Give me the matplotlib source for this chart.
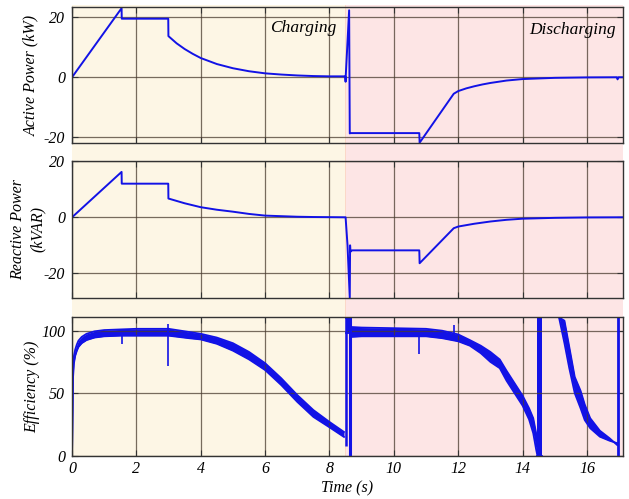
import numpy as np
import matplotlib
matplotlib.use('Agg')
import matplotlib.pyplot as plt
from matplotlib.patches import Rectangle
from matplotlib.transforms import blended_transform_factory

plt.rcParams['font.family'] = ['Liberation Serif', 'DejaVu Serif']
plt.rcParams['font.style'] = 'italic'
plt.rcParams['font.size'] = 11.5
plt.rcParams['axes.unicode_minus'] = False

# ---- data ----
# active power (kW)
p_t = [0, 1.54, 1.545, 2.99, 2.995, 3.25, 3.5, 3.75, 4.0, 4.5, 5.0, 5.5, 6.0, 6.5, 7.0, 7.5,
       8.0, 8.49, 8.5, 8.505, 8.61, 8.63, 8.65, 10.79, 10.8, 11.86, 12.0, 12.25, 12.5, 12.75,
       13.0, 13.5, 14.0, 15.0, 16.0, 16.93, 16.95, 16.98, 17.1]
p_kw = [0, 23.0, 19.5, 19.5, 13.7, 11.3, 9.4, 7.8, 6.4, 4.4, 3.0, 2.0, 1.3, 0.9, 0.6, 0.4,
        0.3, 0.3, -1.5, 0.5, 22.3, -18.7, -18.6, -18.6, -21.8, -5.5, -4.6, -3.7, -3.0, -2.4,
        -1.9, -1.1, -0.6, -0.2, -0.05, 0.0, -0.7, 0.0, 0.0]

# reactive power (kVAR)
q_t = [0, 1.54, 1.545, 2.99, 2.995, 3.5, 4.0, 4.5, 5.0, 5.5, 6.0, 6.5, 7.0, 7.5, 8.0, 8.5,
       8.56, 8.63, 8.64, 8.65, 8.7, 10.79, 10.8, 11.86, 12.0, 12.5, 13.0, 13.5, 14.0, 15.0,
       16.0, 17.1]
q_kvar = [0, 16.2, 12.0, 12.0, 6.7, 5.0, 3.6, 2.7, 2.0, 1.2, 0.6, 0.4, 0.2, 0.1, 0.05, 0,
          -10.0, -28.7, -10.0, -12.3, -11.8, -11.8, -16.4, -3.9, -3.3, -2.3, -1.5, -0.9, -0.5,
          -0.2, -0.05, 0]

# efficiency (%) - upper / lower edge of the oscillating band
eff_t_ch = [0, 0.03, 0.06, 0.1, 0.15, 0.2, 0.3, 0.45, 0.7, 1.0, 1.5, 2.0, 3.0, 3.63, 4.0, 4.5,
            5.0, 5.5, 6.0, 6.5, 7.0, 7.5, 8.0, 8.45]
eff_hi_ch = [0, 72, 80, 85, 89, 92, 95, 97.5, 99.5, 100.5, 101, 101.5, 101.5, 99, 97.5, 94.5,
             90, 83, 74, 62, 48.5, 36.5, 27, 19]
eff_lo_ch = [0, 62, 74, 80, 84, 87, 90, 92.5, 94.5, 95.5, 96, 96, 96, 94, 93, 89.5,
             84, 77, 68.5, 56.5, 43, 31, 22.7, 15]

eff_t_on = [8.51, 8.62]
eff_hi_on = [110, 110]
eff_lo_on = [98, 98]

eff_t_dis = [8.65, 9.0, 10.0, 11.0, 11.5, 12.0, 12.36, 12.7, 13.0, 13.29, 13.5, 13.8, 14.0,
             14.2, 14.33, 14.42, 14.46]
eff_hi_dis = [103, 102.5, 102, 101.5, 100, 97, 92.5, 88, 83, 77, 68, 56, 48, 38, 30, 18, 8]
eff_lo_dis = [95, 95.5, 95.5, 95.5, 94, 91.5, 88, 82, 75, 70, 60, 48, 40, 29, 18, 5, 0]

eff_t_bar = [14.46, 14.61]
eff_hi_bar = [110.7, 110.7]
eff_lo_bar = [0, 0]

eff_t_tail = [15.13, 15.3, 15.45, 15.62, 15.8, 15.93, 16.1, 16.4, 16.7, 16.94]
eff_hi_tail = [110.7, 90, 70, 50, 38, 28.5, 22, 15.2, 12, 10]
eff_lo_tail = [110.7, 108, 87, 63, 52, 41, 30, 20, 14, 8.5]

# spikes / vertical lines in the efficiency trace
spike_t = [1.54, 2.99, 8.5, 8.63, 10.79, 11.86, 16.95]
spike_lo = [89.5, 71.6, 8, 0, 81, 98, 0]
spike_hi = [97, 105.7, 110.7, 110.7, 96, 104.4, 110.7]
spike_w = [1.2, 1.2, 1.8, 2.2, 1.2, 1.2, 2.0]

t_switch = 8.5
blue = '#1212e6'
grid_c = '#4a3c30'

fig = plt.figure(figsize=(6.29, 4.99), dpi=100)
ax1 = fig.add_axes([0.1145, 0.7134, 0.876, 0.2726])
ax2 = fig.add_axes([0.1145, 0.4034, 0.876, 0.2740])
ax3 = fig.add_axes([0.1145, 0.0868, 0.876, 0.2773], sharex=ax1)
ax2.sharex(ax1)

# background shading behind the three panels
tr = blended_transform_factory(ax3.transData, fig.transFigure)
fig.patches.append(Rectangle((0, 0.0868), t_switch, 0.99 - 0.0868, transform=tr,
                             facecolor='#fdf6e5', edgecolor='none', zorder=-10))
fig.patches.append(Rectangle((t_switch, 0.0868), 17.12 - t_switch, 0.99 - 0.0868, transform=tr,
                             facecolor='#fde5e5', edgecolor='none', zorder=-10))
fig.patches.append(Rectangle((t_switch - 0.02, 0.0868), 0.04, 0.99 - 0.0868, transform=tr,
                             facecolor='#fbd8c8', edgecolor='none', zorder=-9))

ax1.plot(p_t, p_kw, color=blue, lw=1.4)
ax2.plot(q_t, q_kvar, color=blue, lw=1.4)

for tt, hi, lo in [(eff_t_ch, eff_hi_ch, eff_lo_ch), (eff_t_on, eff_hi_on, eff_lo_on),
                   (eff_t_dis, eff_hi_dis, eff_lo_dis), (eff_t_bar, eff_hi_bar, eff_lo_bar),
                   (eff_t_tail, eff_hi_tail, eff_lo_tail)]:
    ax3.fill_between(tt, lo, hi, color=blue, lw=0)
    ax3.plot(tt, hi, color=blue, lw=1.3)
    ax3.plot(tt, lo, color=blue, lw=1.3)
for x, a, b, w in zip(spike_t, spike_lo, spike_hi, spike_w):
    ax3.vlines(x, a, b, color=blue, lw=w)

ax1.set_ylim(-21.9, 23.4)
ax2.set_ylim(-28.7, 20.1)
ax3.set_ylim(0, 110.7)
ax1.set_xlim(0, 17.12)
ax1.set_yticks([-20, 0, 20])
ax2.set_yticks([-20, 0, 20])
ax3.set_yticks([0, 50, 100])
ax3.set_xticks(np.arange(0, 17, 2))

for ax in (ax1, ax2, ax3):
    ax.set_facecolor('none')
    ax.grid(True, color=grid_c, lw=0.9, alpha=0.75)
    ax.tick_params(direction='in', top=True, right=True, length=4, color='#333333', pad=5)
    for s in ax.spines.values():
        s.set_color('#333333')
        s.set_linewidth(1.0)
ax1.tick_params(labelbottom=False)
ax2.tick_params(labelbottom=False)
ax3.tick_params(axis='x', pad=4)

ax1.set_ylabel('Active Power (kW)')
ax2.set_ylabel('Reactive Power\n(kVAR)', linespacing=1.3)
ax3.set_ylabel('Efficiency (%)')
ax3.set_xlabel('Time (s)', labelpad=2)
ax1.yaxis.set_label_coords(-0.06, 0.5)
ax2.yaxis.set_label_coords(-0.047, 0.5)
ax3.yaxis.set_label_coords(-0.058, 0.5)

ax1.text(8.2, 16.3, 'Charging', ha='right', va='center', fontsize=12.5)
ax1.text(16.9, 15.6, 'Discharging', ha='right', va='center', fontsize=12.5)

fig.savefig('out.png', dpi=100)
